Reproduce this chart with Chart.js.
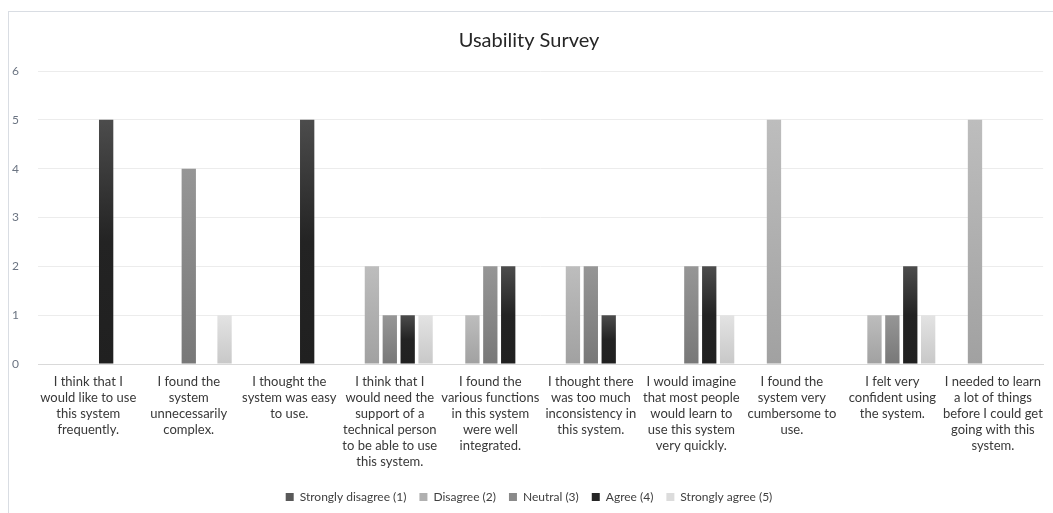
<!DOCTYPE html>
<html>
<head>
<meta charset="utf-8">
<script src="https://cdn.jsdelivr.net/npm/chart.js@4"></script>
<style>
  html, body { margin: 0; padding: 0; background: #ffffff; }
  #wrap { position: relative; width: 1053px; height: 513px; }
</style>
</head>
<body>
<div id="wrap"><canvas id="chart" width="1053" height="513"></canvas></div>
<script>
// Survey statements (x-axis categories), pre-wrapped into lines
const questions = [
  ["I think that I", "would like to use", "this system", "frequently."],
  ["I found the", "system", "unnecessarily", "complex."],
  ["I thought the", "system was easy", "to use."],
  ["I think that I", "would need the", "support of a", "technical person", "to be able to use", "this system."],
  ["I found the", "various functions", "in this system", "were well", "integrated."],
  ["I thought there", "was too much", "inconsistency in", "this system."],
  ["I would imagine", "that most people", "would learn to", "use this system", "very quickly."],
  ["I found the", "system very", "cumbersome to", "use."],
  ["I felt very", "confident using", "the system."],
  ["I needed to learn", "a lot of things", "before I could get", "going with this", "system."]
];

// Number of responses per answer option
const responseLabels = ["Strongly disagree (1)", "Disagree (2)", "Neutral (3)", "Agree (4)", "Strongly agree (5)"];
const stronglyDisagree = [0, 0, 0, 0, 0, 0, 0, 0, 0, 0];
const disagree         = [0, 0, 0, 2, 1, 2, 0, 5, 1, 5];
const neutral          = [0, 4, 0, 1, 2, 2, 2, 0, 1, 0];
const agree            = [5, 0, 5, 1, 2, 1, 2, 0, 2, 0];
const stronglyAgree    = [0, 1, 0, 1, 0, 0, 1, 0, 1, 0];

const yTicks = [0, 1, 2, 3, 4, 5, 6];

// Gradient stops per series (top of bar -> bottom of bar), plus a flat legend swatch
const shades = [
  { stops: [[0, "#6a6a6a"], [0.5, "#484848"], [1, "#404040"]], swatch: "#595959" },
  { stops: [[0, "#bdbdbd"], [1, "#a1a1a1"]], swatch: "#b0b0b0" },
  { stops: [[0, "#969696"], [1, "#787878"]], swatch: "#8a8a8a" },
  { stops: [[0, "#4c4c4c"], [0.5, "#232323"], [1, "#202020"]], swatch: "#262626" },
  { stops: [[0, "#e3e3e3"], [1, "#c8c8c8"]], swatch: "#dcdcdc" }
];

function barGradient(ctx, shade) {
  const chart = ctx.chart;
  const y = chart.scales && chart.scales.y;
  if (!y || ctx.type !== "data") return shade.swatch;
  const v = ctx.raw;
  if (!v) return shade.swatch;
  const top = y.getPixelForValue(v);
  const bottom = y.getPixelForValue(0);
  const g = chart.ctx.createLinearGradient(0, top, 0, bottom);
  shade.stops.forEach(s => g.addColorStop(s[0], s[1]));
  return g;
}

const seriesValues = [stronglyDisagree, disagree, neutral, agree, stronglyAgree];

const datasets = seriesValues.map((values, i) => ({
  label: responseLabels[i],
  data: values,
  backgroundColor: (ctx) => barGradient(ctx, shades[i]),
  borderWidth: 0,
  categoryPercentage: 0.89,
  barPercentage: 0.8
}));

// Light frame around the chart area (extends past the page edge)
const framePlugin = {
  id: "frame",
  beforeDraw(chart) {
    const c = chart.ctx;
    c.save();
    c.fillStyle = "#ffffff";
    c.fillRect(0, 0, chart.width, chart.height);
    c.strokeStyle = "#d9dde3";
    c.lineWidth = 1;
    c.strokeRect(8.5, 11.5, chart.width + 20, chart.height + 20);
    c.restore();
  }
};

const FONT = "Lato, 'Liberation Sans', sans-serif";

new Chart(document.getElementById("chart"), {
  type: "bar",
  data: { labels: questions, datasets },
  options: {
    responsive: false,
    animation: false,
    layout: { padding: { left: 8, right: 3, top: 0, bottom: 0 } },
    plugins: {
      title: {
        display: true,
        text: "Usability Survey",
        color: "#262626",
        font: { family: FONT, size: 20, weight: "normal" },
        padding: { top: 29, bottom: 18 }
      },
      legend: {
        position: "bottom",
        labels: {
          boxWidth: 8,
          boxHeight: 8,
          padding: 13,
          color: "#404040",
          font: { family: FONT, size: 12 },
          generateLabels(chart) {
            return chart.data.datasets.map((ds, i) => ({
              text: ds.label,
              fillStyle: shades[i].swatch,
              strokeStyle: shades[i].swatch,
              lineWidth: 0,
              hidden: false,
              datasetIndex: i,
              fontColor: "#404040"
            }));
          }
        }
      },
      tooltip: { enabled: false }
    },
    scales: {
      x: {
        grid: { display: false, drawTicks: false },
        border: { display: true, color: "#d9d9d9" },
        ticks: {
          color: "#383838",
          font: { family: FONT, size: 13, lineHeight: "16px" },
          padding: 10,
          maxRotation: 0,
          minRotation: 0,
          autoSkip: false
        },
        afterFit(scale) { scale.height = 114; }
      },
      y: {
        min: 0,
        max: 6,
        afterBuildTicks(scale) { scale.ticks = yTicks.map(v => ({ value: v })); },
        grid: { color: "#ececec", drawTicks: false },
        border: { display: false },
        ticks: {
          color: "#6b7482",
          font: { family: FONT, size: 12 },
          padding: 19
        },
        afterFit(scale) { scale.width = 30; }
      }
    }
  },
  plugins: [framePlugin]
});
</script>
</body>
</html>
